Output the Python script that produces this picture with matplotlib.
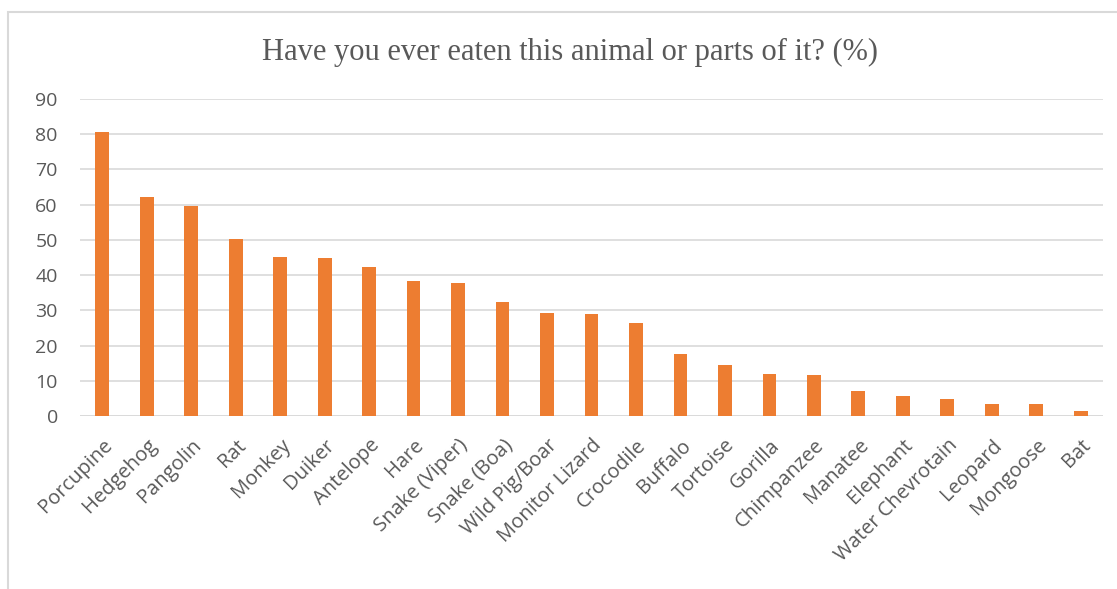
import matplotlib.pyplot as plt
from matplotlib.patches import Rectangle

animals = ["Porcupine", "Hedgehog", "Pangolin", "Rat", "Monkey", "Duiker", "Antelope",
           "Hare", "Snake (Viper)", "Snake (Boa)", "Wild Pig/Boar", "Monitor Lizard",
           "Crocodile", "Buffalo", "Tortoise", "Gorilla", "Chimpanzee", "Manatee",
           "Elephant", "Water Chevrotain", "Leopard", "Mongoose", "Bat"]
percent = [80.5, 62.3, 59.5, 50.2, 45.1, 44.8, 42.2, 38.4, 37.8, 32.3, 29.2, 29.1,
           26.4, 17.7, 14.6, 11.9, 11.5, 7.0, 5.6, 4.9, 3.5, 3.3, 1.3]
yticks = [0, 10, 20, 30, 40, 50, 60, 70, 80, 90]

fig = plt.figure(figsize=(11.17, 5.89), dpi=100)
# chart frame (grey border, cut at right/bottom like the screenshot)
fig.patches.append(Rectangle((8/1117, -0.1), 1.2, (589 - 12)/589 + 0.1,
                             transform=fig.transFigure, fill=False,
                             edgecolor="#d9d9d9", linewidth=1.5))

ax = fig.add_axes([80/1117, 1 - 416/589, (1103 - 80)/1117, (416 - 99)/589])
x = range(len(animals))
ax.bar(x, percent, width=0.31, color="#ED7D31", zorder=3)

ax.set_xlim(-0.5, len(animals) - 0.5)
ax.set_ylim(0, 90)
ax.set_yticks(yticks)
ax.yaxis.grid(True, color="#d9d9d9", linewidth=1.2, zorder=0)
for s in ax.spines.values():
    s.set_visible(False)
ax.axhline(0, color="#d9d9d9", linewidth=1.2, zorder=1)
ax.tick_params(axis="both", length=0, labelsize=14, labelcolor="#595959")
ax.tick_params(axis="y", pad=16)
ax.tick_params(axis="x", pad=14)
ax.set_xticks(list(x))
ax.set_xticklabels(animals, rotation=45, ha="right", rotation_mode="anchor",
                   fontsize=14.5, color="#595959", family="Open Sans")
for lab in ax.get_yticklabels():
    lab.set_family("Open Sans")

fig.text(570/1117, 1 - 60/589, "Have you ever eaten this animal or parts of it? (%)",
         ha="center", va="baseline", fontsize=22, color="#595959",
         family="Liberation Serif")

fig.savefig("out.png", dpi=100)
